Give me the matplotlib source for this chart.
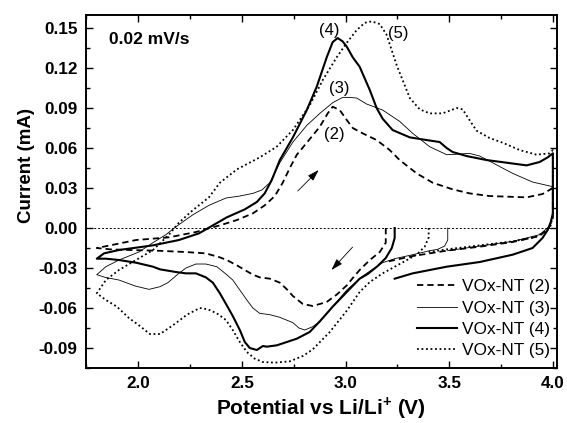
import matplotlib
matplotlib.use("Agg")
import matplotlib.pyplot as plt
from matplotlib.ticker import MultipleLocator, FormatStrFormatter

plt.rcParams['font.family'] = ['Liberation Sans', 'DejaVu Sans']
plt.rcParams['axes.unicode_minus'] = False
plt.rcParams['mathtext.fontset'] = 'custom'
plt.rcParams['mathtext.bf'] = 'Liberation Sans:bold'
plt.rcParams['mathtext.rm'] = 'Liberation Sans'

# ---------------- data: (potential V, current mA) ----------------
cv2 = [(3.194, 0.000), (3.194, -0.011), (3.165, -0.018), (3.117, -0.024), (3.068, -0.0315),
       (3.035, -0.0375), (3.006, -0.043), (2.957, -0.050), (2.909, -0.0555), (2.842, -0.0585),
       (2.794, -0.057), (2.746, -0.051), (2.717, -0.046), (2.683, -0.041), (2.635, -0.038),
       (2.586, -0.037), (2.553, -0.035), (2.514, -0.0315), (2.476, -0.028), (2.427, -0.024),
       (2.394, -0.022), (2.326, -0.019), (2.230, -0.018), (2.090, -0.017), (1.960, -0.0165),
       (1.865, -0.016), (1.800, -0.015),
       (1.865, -0.013), (1.989, -0.009), (2.148, -0.007), (2.278, -0.003), (2.346, 0.000),
       (2.394, 0.002), (2.476, 0.006), (2.553, 0.011), (2.610, 0.017), (2.659, 0.024),
       (2.697, 0.034), (2.731, 0.045), (2.765, 0.055), (2.813, 0.064), (2.876, 0.076),
       (2.914, 0.086), (2.938, 0.091), (2.972, 0.0885), (3.006, 0.081), (3.035, 0.075),
       (3.083, 0.071), (3.150, 0.066), (3.213, 0.0585), (3.261, 0.051), (3.343, 0.041),
       (3.420, 0.034), (3.517, 0.029), (3.598, 0.026), (3.695, 0.024), (3.873, 0.023),
       (3.950, 0.0255), (4.000, 0.030),
       (4.000, 0.0075), (3.980, 0.000), (3.936, -0.006), (3.806, -0.0105), (3.647, -0.014),
       (3.488, -0.017), (3.324, -0.021), (3.237, -0.024), (3.194, -0.0255)]

cv3 = [(3.493, 0.000), (3.493, -0.009), (3.478, -0.0135), (3.444, -0.016), (3.406, -0.017),
       (3.324, -0.020), (3.237, -0.023), (3.179, -0.026), (3.130, -0.031), (3.083, -0.036),
       (3.006, -0.0465), (2.924, -0.0615), (2.876, -0.070), (2.842, -0.074), (2.803, -0.0765),
       (2.775, -0.075), (2.746, -0.071), (2.683, -0.067), (2.635, -0.065), (2.586, -0.064),
       (2.553, -0.060), (2.524, -0.054), (2.490, -0.0465), (2.456, -0.039), (2.423, -0.0345),
       (2.379, -0.029), (2.326, -0.027), (2.278, -0.027), (2.230, -0.030), (2.196, -0.034),
       (2.143, -0.041), (2.105, -0.044), (2.052, -0.046), (1.985, -0.0435), (1.907, -0.039),
       (1.840, -0.037), (1.800, -0.035),
       (1.844, -0.029), (1.907, -0.024), (2.003, -0.018), (2.071, -0.011), (2.133, -0.005),
       (2.182, 0.001), (2.264, 0.010), (2.341, 0.017), (2.423, 0.0225), (2.490, 0.024),
       (2.553, 0.026), (2.596, 0.0285), (2.635, 0.034), (2.683, 0.049), (2.746, 0.0645),
       (2.813, 0.077), (2.876, 0.086), (2.938, 0.094), (2.986, 0.098), (3.020, 0.098),
       (3.054, 0.0975), (3.102, 0.093), (3.179, 0.0885), (3.261, 0.080), (3.324, 0.071),
       (3.406, 0.061), (3.488, 0.055), (3.550, 0.0555), (3.598, 0.056), (3.647, 0.054),
       (3.709, 0.049), (3.806, 0.041), (3.902, 0.0345), (4.000, 0.031),
       (4.000, 0.010), (3.984, 0.0015), (3.936, -0.005), (3.806, -0.010), (3.647, -0.0135),
       (3.493, -0.017)]

cv4 = [(3.237, 0.000), (3.237, -0.0075), (3.223, -0.015), (3.194, -0.0225), (3.155, -0.0285),
       (3.107, -0.0345), (3.068, -0.038), (3.006, -0.048), (2.938, -0.059), (2.876, -0.070),
       (2.827, -0.078), (2.765, -0.083), (2.717, -0.0855), (2.668, -0.088), (2.620, -0.089),
       (2.601, -0.0885), (2.572, -0.0915), (2.538, -0.090), (2.514, -0.0855), (2.490, -0.0765),
       (2.456, -0.066), (2.427, -0.058), (2.394, -0.049), (2.360, -0.041), (2.326, -0.037),
       (2.278, -0.034), (2.230, -0.034), (2.182, -0.033), (2.105, -0.031), (2.071, -0.029),
       (1.989, -0.026), (1.907, -0.024), (1.844, -0.023), (1.800, -0.023),
       (1.835, -0.019), (1.907, -0.0165), (2.071, -0.013), (2.196, -0.009), (2.293, -0.004),
       (2.360, 0.002), (2.427, 0.008), (2.514, 0.014), (2.572, 0.0195), (2.610, 0.026),
       (2.644, 0.036), (2.683, 0.051), (2.746, 0.068), (2.813, 0.0885), (2.861, 0.106),
       (2.909, 0.128), (2.938, 0.1395), (2.962, 0.1425), (2.986, 0.140), (3.006, 0.136),
       (3.035, 0.128), (3.068, 0.121), (3.117, 0.1035), (3.150, 0.090), (3.179, 0.082),
       (3.227, 0.0735), (3.310, 0.068), (3.391, 0.066), (3.454, 0.0645), (3.488, 0.060),
       (3.517, 0.057), (3.584, 0.054), (3.680, 0.051), (3.777, 0.049), (3.873, 0.047),
       (3.936, 0.0495), (3.975, 0.053), (4.000, 0.056),
       (4.000, 0.011), (3.990, 0.0045), (3.975, -0.0015), (3.950, -0.0075), (3.902, -0.015),
       (3.806, -0.020), (3.647, -0.0255), (3.488, -0.029), (3.324, -0.034), (3.237, -0.038)]

cv5 = [(3.401, 0.000), (3.401, -0.007), (3.382, -0.014), (3.343, -0.020), (3.261, -0.027),
       (3.179, -0.034), (3.117, -0.0405), (3.068, -0.048), (3.006, -0.062), (2.924, -0.078),
       (2.842, -0.091), (2.794, -0.096), (2.731, -0.100), (2.659, -0.101), (2.601, -0.1005),
       (2.562, -0.098), (2.524, -0.093), (2.490, -0.0855), (2.456, -0.0765), (2.423, -0.069),
       (2.379, -0.064), (2.336, -0.061), (2.297, -0.060), (2.235, -0.065), (2.167, -0.073),
       (2.105, -0.0795), (2.056, -0.0795), (2.008, -0.0735), (1.955, -0.0675), (1.897, -0.059),
       (1.844, -0.054), (1.800, -0.049),
       (1.844, -0.039), (1.907, -0.0315), (1.989, -0.024), (2.071, -0.0165), (2.148, -0.005),
       (2.196, 0.004), (2.264, 0.0135), (2.341, 0.023), (2.394, 0.034), (2.476, 0.044),
       (2.586, 0.053), (2.668, 0.061), (2.746, 0.0735), (2.827, 0.092), (2.890, 0.111),
       (2.957, 0.128), (3.006, 0.139), (3.054, 0.1485), (3.093, 0.154), (3.126, 0.155),
       (3.165, 0.153), (3.198, 0.145), (3.247, 0.122), (3.310, 0.0975), (3.358, 0.089),
       (3.406, 0.086), (3.468, 0.086), (3.536, 0.090), (3.565, 0.089), (3.598, 0.081),
       (3.632, 0.073), (3.695, 0.0675), (3.758, 0.064), (3.840, 0.0585), (3.921, 0.055),
       (3.984, 0.056), (4.000, 0.0585),
       (4.000, 0.010), (3.990, 0.002), (3.960, -0.003), (3.912, -0.007), (3.806, -0.010),
       (3.647, -0.013), (3.488, -0.016), (3.401, -0.018)]

series_labels = ['VOx-NT (2)', 'VOx-NT (3)', 'VOx-NT (4)', 'VOx-NT (5)']
peak_labels = ['(2)', '(3)', '(4)', '(5)']
peak_label_pos = [(2.948, 0.070), (2.972, 0.105), (2.919, 0.1485), (3.253, 0.146)]
x_ticks = [2.0, 2.5, 3.0, 3.5, 4.0]
y_ticks = [-0.09, -0.06, -0.03, 0.00, 0.03, 0.06, 0.09, 0.12, 0.15]

# ---------------- figure ----------------
fig = plt.figure(figsize=(5.67, 4.23), dpi=100)
ax = fig.add_axes([86/567, 55/423, 471/567, 353/423])

styles = [dict(lw=1.3, linestyle=(0, (3.5, 2.2))),
          dict(lw=0.6, linestyle='-'),
          dict(lw=1.5, linestyle='-'),
          dict(lw=1.3, linestyle=(0, (1, 1.5)))]
for data, lab, st in zip([cv2, cv3, cv4, cv5], series_labels, styles):
    xs = [p[0] for p in data]
    ys = [p[1] for p in data]
    ax.plot(xs, ys, color='black', label=lab, solid_joinstyle='round', **st)

ax.axhline(0, color='black', lw=0.7, linestyle=(0, (2, 2)))

ax.set_xlim(1.748, 4.02)
ax.set_ylim(-0.105, 0.1598)
ax.set_xticks(x_ticks)
ax.set_yticks(y_ticks)
ax.xaxis.set_minor_locator(MultipleLocator(0.25))
ax.yaxis.set_minor_locator(MultipleLocator(0.015))
ax.xaxis.set_major_formatter(FormatStrFormatter('%.1f'))
ax.yaxis.set_major_formatter(FormatStrFormatter('%.2f'))
ax.tick_params(which='both', direction='in', top=True, right=True, width=1.0)
ax.tick_params(which='major', length=5, pad=6, labelsize=12.3)
ax.tick_params(which='minor', length=3)
for lbl in ax.get_xticklabels() + ax.get_yticklabels():
    lbl.set_fontweight('bold')
for sp in ax.spines.values():
    sp.set_linewidth(1.4)

ax.set_xlabel(r'Potential vs Li/Li$^{\mathbf{+}}$ (V)', fontsize=15, fontweight='bold', va='center')
ax.xaxis.set_label_coords(0.499, -0.114)
ax.set_ylabel('Current (mA)', fontsize=13.5, fontweight='bold', va='center')
ax.yaxis.set_label_coords(-0.127, 0.575)

ax.text(0.049, 0.932, '0.02 mV/s', transform=ax.transAxes, fontsize=12.5,
        fontweight='bold', ha='left', va='center')
for t, (px, py) in zip(peak_labels, peak_label_pos):
    ax.text(px, py, t, fontsize=12, ha='center', va='center')

arrow = dict(arrowstyle='-|>,head_length=0.7,head_width=0.22', lw=0.6, color='black')
ax.annotate('', xy=(2.88, 0.045), xytext=(2.76, 0.0263), arrowprops=arrow)
ax.annotate('', xy=(2.923, -0.033), xytext=(3.043, -0.0128), arrowprops=arrow)

ax.legend(loc='lower right', bbox_to_anchor=(0.985, 0.028), frameon=False,
          fontsize=12.4, handlelength=2.3, handletextpad=0.3, labelspacing=0.36,
          borderaxespad=0, borderpad=0)

fig.savefig('out.png', dpi=100)
